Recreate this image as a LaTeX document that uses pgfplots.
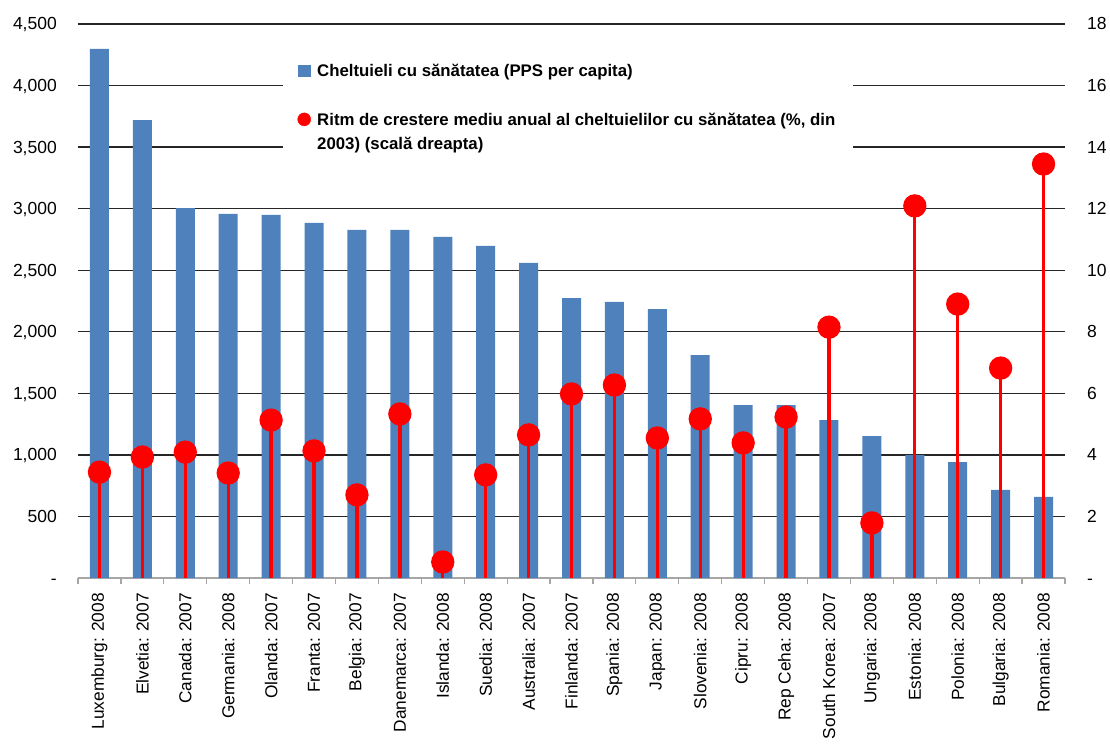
\documentclass[border=0pt]{standalone}
\usepackage{fontspec}
\setmainfont{Liberation Sans}
\usepackage{pgfplots}
\pgfplotsset{compat=1.18}
\definecolor{barblue}{HTML}{4F81BD}
\definecolor{gridc}{HTML}{262626}
\definecolor{axgray}{HTML}{A6A6A6}
\begin{document}
\begin{tikzpicture}[x=1pt,y=1pt]
\begin{axis}[
  at={(0,0)}, anchor=south west,
  width=987pt, height=554pt, scale only axis,
  xmin=-0.5, xmax=22.5, ymin=0, ymax=4500,
  axis x line*=bottom, axis y line*=left,
  x axis line style={axgray, line width=1.3pt},
  y axis line style={draw=none},
  xtick={0,...,22},
  xticklabels={Luxemburg: 2008, Elvetia: 2007, Canada: 2007, Germania: 2008, Olanda: 2007, Franta: 2007, Belgia: 2007, Danemarca: 2007, Islanda: 2008, Suedia: 2008, Australia: 2007, Finlanda: 2007, Spania: 2008, Japan: 2008, Slovenia: 2008, Cipru: 2008, Rep Ceha: 2008, South Korea: 2007, Ungaria: 2008, Estonia: 2008, Polonia: 2008, Bulgaria: 2008, Romania: 2008},
  minor xtick={-0.5,0.5,...,22.5},
  major tick length=0pt, minor tick length=6pt, tick align=outside,
  tick style={axgray, line width=1.2pt},
  ytick={0,500,...,4500},
  yticklabels={-,500,{1,000},{1,500},{2,000},{2,500},{3,000},{3,500},{4,000},{4,500}},
  ymajorgrids, major grid style={gridc, line width=1.3pt},
  xticklabel style={rotate=90, anchor=east, inner sep=0pt, xshift=-15pt, font=\fontsize{17.3}{20}\selectfont},
  yticklabel style={anchor=base east, inner sep=0pt, xshift=-21pt, yshift=-6pt, font=\fontsize{17.5}{20}\selectfont},
]
\addplot[ybar, bar width=19pt, bar shift=0pt, fill=barblue, draw=none] coordinates {
(0,4297) (1,3720) (2,3005) (3,2957) (4,2949) (5,2884) (6,2827) (7,2827) (8,2770) (9,2697) (10,2559) (11,2274) (12,2242) (13,2185) (14,1811) (15,1405) (16,1405) (17,1283) (18,1153) (19,999) (20,942) (21,715) (22,658)
};
\end{axis}
\begin{axis}[
  at={(0,0)}, anchor=south west,
  width=987pt, height=554pt, scale only axis,
  xmin=-0.5, xmax=22.5, ymin=0, ymax=18,
  axis x line=none, axis y line*=right,
  y axis line style={draw=none},
  major tick length=0pt,
  ytick={0,2,...,18},
  yticklabels={-,2,4,6,8,10,12,14,16,18},
  yticklabel style={anchor=base west, inner sep=0pt, xshift=22pt, yshift=-6pt, font=\fontsize{17.5}{20}\selectfont},
  clip=false,
  legend style={draw=none, fill=white, at={(0.2077,0.953)}, anchor=north west,
    cells={anchor=base west}, nodes={inner sep=2pt, text depth=},
    font=\bfseries\fontsize{16.8}{24}\selectfont, inner xsep=10pt, inner ysep=12pt, row sep=25pt},
]
\addlegendimage{legend image code/.code={\fill[barblue] (5pt,0pt) rectangle (17pt,11pt); \path[draw=none,fill=none] (0pt,0pt) -- (22pt,0pt);}}
\addlegendentry{Cheltuieli cu sănătatea (PPS per capita)}
\addlegendimage{legend image code/.code={\fill[red] (11pt,6.5pt) circle (6.5pt); \path[draw=none,fill=none] (0pt,0pt) -- (22pt,0pt);}}
\addlegendentry{\begin{tabular}[t]{@{}l@{\hspace{6pt}}}Ritm de crestere mediu anual al cheltuielilor cu sănătatea (\%, din\\2003) (scală dreapta)\end{tabular}}
\addplot[ycomb, draw=red, line width=3.3pt, mark=*, mark size=10pt, mark options={draw=none, fill=red}, forget plot] coordinates {
(0,3.44) (1,3.93) (2,4.09) (3,3.41) (4,5.13) (5,4.13) (6,2.70) (7,5.33) (8,0.52) (9,3.35) (10,4.65) (11,5.98) (12,6.27) (13,4.55) (14,5.17) (15,4.39) (16,5.23) (17,8.15) (18,1.79) (19,12.09) (20,8.90) (21,6.82) (22,13.45)
};
\end{axis}
\pgfresetboundingbox
\path (-78,-167) rectangle (1032,578);
\end{tikzpicture}
\end{document}
